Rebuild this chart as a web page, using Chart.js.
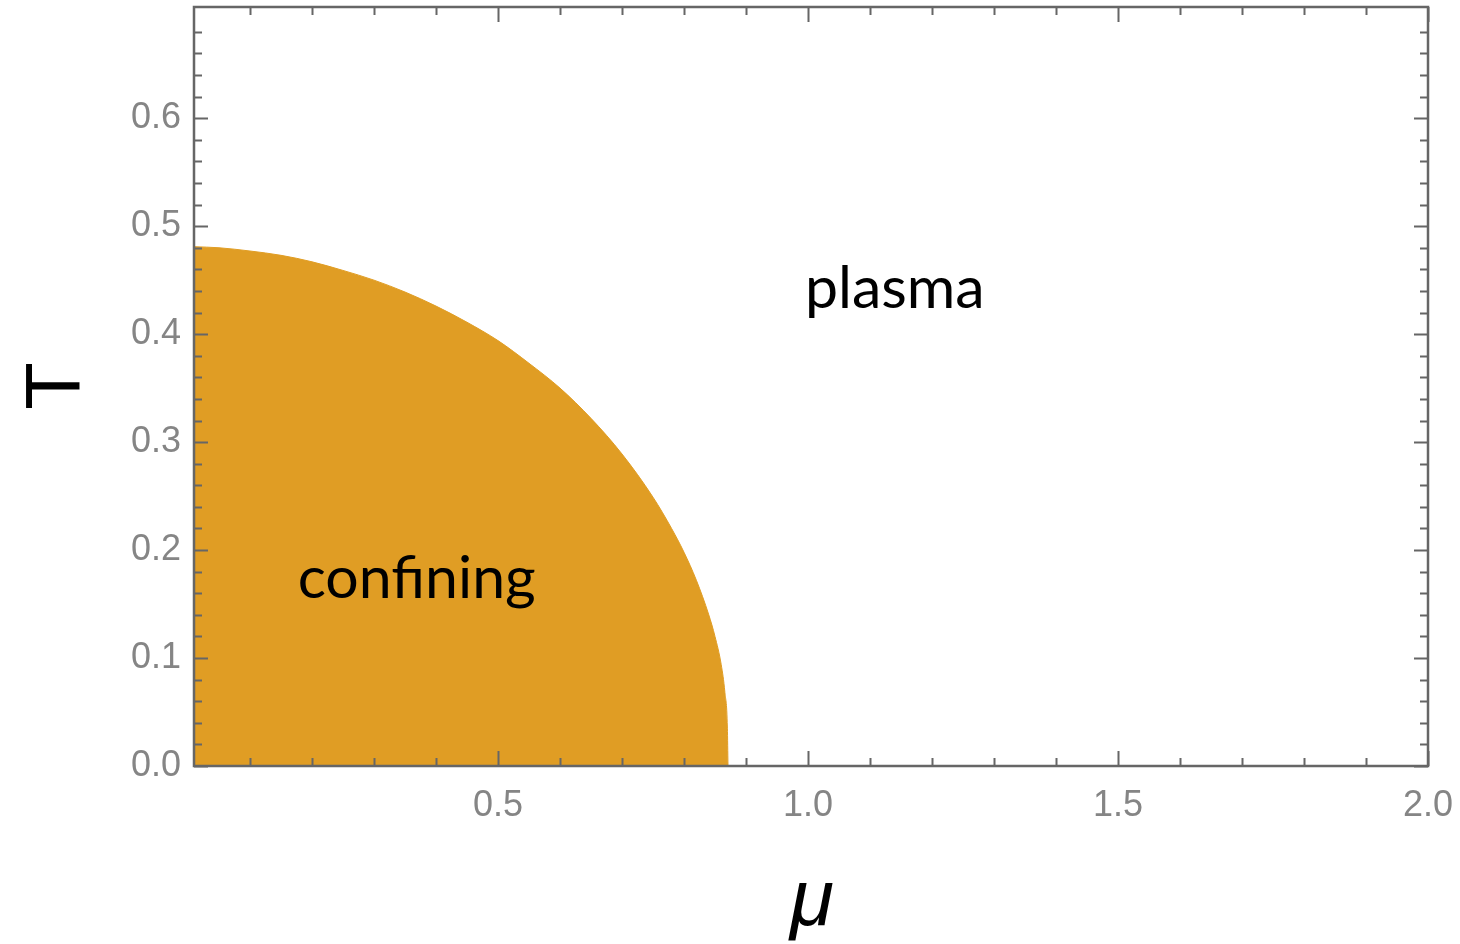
<!DOCTYPE html>
<html>
<head>
<meta charset="utf-8">
<title>Phase diagram</title>
<script src="https://cdn.jsdelivr.net/npm/chart.js@4.4.1/dist/chart.umd.min.js"></script>
<style>
  html, body { margin: 0; padding: 0; background: #fff; }
  #wrap { width: 1460px; height: 944px; position: relative; }
</style>
</head>
<body>
<div id="wrap"><canvas id="chart"></canvas></div>
<script>
// boundary of the confining region
const muValues = [0.0097, 0.05, 0.10, 0.15, 0.20, 0.25, 0.30, 0.35, 0.40, 0.45, 0.50, 0.55, 0.60,
                  0.65, 0.70, 0.75, 0.78, 0.80, 0.82, 0.84, 0.85, 0.86, 0.866, 0.870, 0.871];
const tValues  = [0.481, 0.480, 0.477, 0.473, 0.467, 0.459, 0.450, 0.439, 0.426, 0.411, 0.394, 0.373, 0.350,
                  0.322, 0.289, 0.249, 0.220, 0.198, 0.172, 0.140, 0.120, 0.094, 0.068, 0.035, 0.0];

// tick positions and labels
const xMajorTicks = [0.5, 1.0, 1.5, 2.0];
const xMinorTicks = [0.1, 0.2, 0.3, 0.4, 0.6, 0.7, 0.8, 0.9, 1.1, 1.2, 1.3, 1.4, 1.6, 1.7, 1.8, 1.9];
const yMajorTicks = [0.0, 0.1, 0.2, 0.3, 0.4, 0.5, 0.6];
const yMinorTicks = [0.02, 0.04, 0.06, 0.08, 0.12, 0.14, 0.16, 0.18, 0.22, 0.24, 0.26, 0.28,
                     0.32, 0.34, 0.36, 0.38, 0.42, 0.44, 0.46, 0.48, 0.52, 0.54, 0.56, 0.58,
                     0.62, 0.64, 0.66, 0.68];

const regionLabels = [
  { text: 'plasma', mu: 0.995, t: 0.424 },
  { text: 'confining', mu: 0.177, t: 0.1556 }
];

const FRAME = '#666666';
const FILL = '#e09d24';

// frame, inward ticks, axis titles and region labels
const decorations = {
  id: 'decorations',
  afterDatasetsDraw(chart) {
    const { ctx, chartArea: a, scales: { x, y } } = chart;
    ctx.save();

    // region labels
    ctx.fillStyle = '#000';
    ctx.font = '59px Lato, "Open Sans", sans-serif';
    ctx.textAlign = 'left';
    ctx.textBaseline = 'alphabetic';
    regionLabels.forEach(l => {
      ctx.fillText(l.text, x.getPixelForValue(l.mu), y.getPixelForValue(l.t));
    });

    // ticks on all four sides, pointing inward
    ctx.strokeStyle = FRAME;
    ctx.lineWidth = 2;
    const xTick = (v, len) => {
      const px = Math.round(x.getPixelForValue(v)) + 0.5;
      ctx.beginPath();
      ctx.moveTo(px, a.bottom); ctx.lineTo(px, a.bottom - len);
      ctx.moveTo(px, a.top); ctx.lineTo(px, a.top + len);
      ctx.stroke();
    };
    const yTick = (v, len) => {
      const py = Math.round(y.getPixelForValue(v)) + 0.5;
      ctx.beginPath();
      ctx.moveTo(a.left, py); ctx.lineTo(a.left + len, py);
      ctx.moveTo(a.right, py); ctx.lineTo(a.right - len, py);
      ctx.stroke();
    };
    xMinorTicks.forEach(v => xTick(v, 8));
    xMajorTicks.forEach(v => xTick(v, 15));
    yMinorTicks.forEach(v => yTick(v, 8));
    yMajorTicks.forEach(v => yTick(v, 14));

    // frame
    ctx.lineWidth = 2.5;
    ctx.strokeRect(a.left, a.top, a.right - a.left, a.bottom - a.top);

    // axis titles
    ctx.fillStyle = '#000';
    ctx.font = 'italic 80px "Liberation Sans", Arial, sans-serif';
    ctx.textAlign = 'center';
    ctx.fillText('\u03bc', 812, 925);

    ctx.translate(80, 386);
    ctx.rotate(-Math.PI / 2);
    ctx.font = '78px "Liberation Sans", Arial, sans-serif';
    ctx.fillText('T', 0, 0);
    ctx.restore();
  }
};

const points = muValues.map((m, i) => ({ x: m, y: tValues[i] }));

new Chart(document.getElementById('chart'), {
  type: 'scatter',
  data: {
    datasets: [{
      data: points,
      showLine: true,
      fill: 'origin',
      backgroundColor: FILL,
      borderColor: FILL,
      borderWidth: 1,
      pointRadius: 0,
      cubicInterpolationMode: 'monotone'
    }]
  },
  options: {
    responsive: true,
    maintainAspectRatio: false,
    animation: false,
    layout: { padding: { top: 7, right: 32, left: 0, bottom: 0 } },
    plugins: {
      legend: { display: false },
      tooltip: { enabled: false }
    },
    scales: {
      x: {
        type: 'linear',
        min: 0.0097,
        max: 2.0,
        grid: { display: false, drawTicks: false },
        border: { display: false },
        afterBuildTicks: s => { s.ticks = xMajorTicks.map(v => ({ value: v })); },
        afterFit: s => { s.height = 178; s.paddingLeft = 0; s.paddingRight = 0; },
        ticks: {
          color: '#858585',
          font: { family: '"Liberation Sans", Arial, sans-serif', size: 36 },
          padding: 18,
          maxRotation: 0,
          callback: v => v.toFixed(1)
        }
      },
      y: {
        type: 'linear',
        min: 0,
        max: 0.703,
        grid: { display: false, drawTicks: false },
        border: { display: false },
        afterBuildTicks: s => { s.ticks = yMajorTicks.map(v => ({ value: v })); },
        afterFit: s => { s.width = 194; s.paddingTop = 0; s.paddingBottom = 0; },
        ticks: {
          color: '#858585',
          font: { family: '"Liberation Sans", Arial, sans-serif', size: 36 },
          padding: 13,
          callback: v => v.toFixed(1)
        }
      }
    }
  },
  plugins: [decorations]
});
</script>
</body>
</html>
